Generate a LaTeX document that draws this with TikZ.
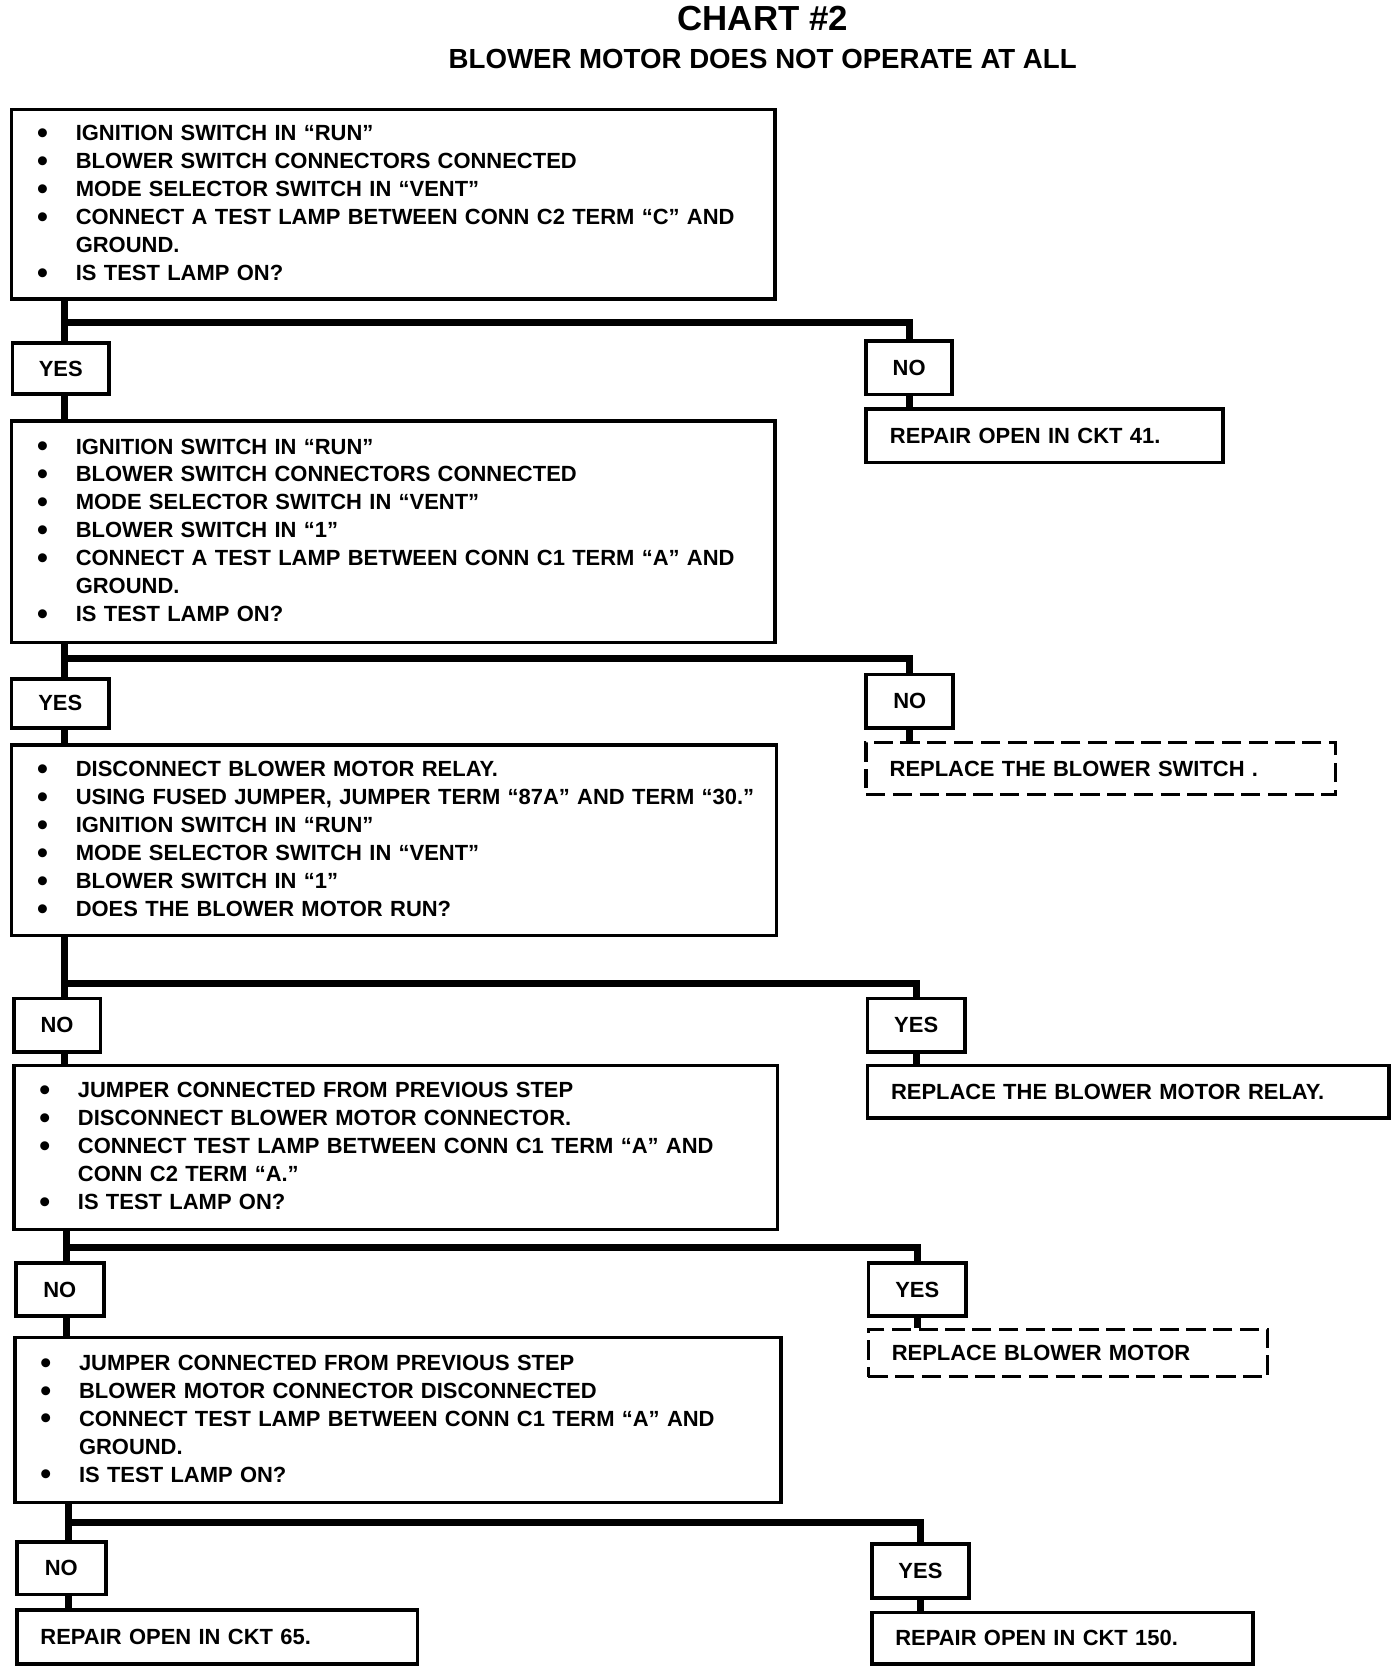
\documentclass[tikz,border=0pt]{standalone}
\usepackage{fontspec}
\setmainfont{Liberation Sans}
\newcommand\bul{\makebox[36pt][l]{\raisebox{-2.6pt}{\fontsize{29}{26}\selectfont•}}}
\newcommand\cont{\hspace*{36pt}}
\begin{document}
\begin{tikzpicture}[x=1pt,y=-0.995pt,
  every node/.style={font=\bfseries\fontsize{20.5}{26.1}\selectfont},
  qbox/.style={draw, line width=3.5pt, anchor=north west, inner ysep=0pt, inner xsep=24pt, align=left},
  rbox/.style={draw, line width=3.5pt, anchor=north west, inner ysep=0pt, inner xsep=22pt, align=left},
  dbox/.style={rbox, line width=3pt, dash pattern=on 18pt off 7pt},
  ybox/.style={draw, line width=3.5pt, anchor=north west, inner sep=0pt},
  conn/.style={line width=6.5pt}]
\useasboundingbox (0,0) rectangle (1300,1566.8);
\node[font=\bfseries\fontsize{32.5}{32.5}\selectfont] (title) at (712,17) {CHART \#2};
\node[font=\bfseries\fontsize{25.8}{25.8}\selectfont] (sub) at (712,55) {BLOWER MOTOR DOES NOT OPERATE AT ALL};
% step 1
\node[qbox, text width=665pt, minimum height=177pt] (b1) at (9,101) {\bul IGNITION SWITCH IN “RUN”\\ \bul BLOWER SWITCH CONNECTORS CONNECTED\\ \bul MODE SELECTOR SWITCH IN “VENT”\\ \bul CONNECT A TEST LAMP BETWEEN CONN C2 TERM “C” AND\\ \cont GROUND.\\ \bul IS TEST LAMP ON?};
\node[ybox, minimum width=90pt, minimum height=48pt] (yes1) at (10,320) {YES};
\node[ybox, minimum width=80pt, minimum height=50pt] (no1) at (807,318) {NO};
\node[rbox, text width=289pt, minimum height=50pt] (r1) at (807,382) {REPAIR OPEN IN CKT 41.};
% step 2
\node[qbox, text width=665pt, minimum height=207pt] (b2) at (9,393) {\bul IGNITION SWITCH IN “RUN”\\ \bul BLOWER SWITCH CONNECTORS CONNECTED\\ \bul MODE SELECTOR SWITCH IN “VENT”\\ \bul BLOWER SWITCH IN “1”\\ \bul CONNECT A TEST LAMP BETWEEN CONN C1 TERM “A” AND\\ \cont GROUND.\\ \bul IS TEST LAMP ON?};
\node[ybox, minimum width=91pt, minimum height=46pt] (yes2) at (9,635) {YES};
\node[ybox, minimum width=81pt, minimum height=50pt] (no2) at (807,631) {NO};
\node[dbox, text width=394pt, minimum height=49pt] (r2) at (807,695) {REPLACE THE BLOWER SWITCH .};
% step 3
\node[qbox, text width=666pt, minimum height=178pt] (b3) at (9,697) {\bul DISCONNECT BLOWER MOTOR RELAY.\\ \bul \mbox{USING FUSED JUMPER, JUMPER TERM “87A” AND TERM “30.”}\\ \bul IGNITION SWITCH IN “RUN”\\ \bul MODE SELECTOR SWITCH IN “VENT”\\ \bul BLOWER SWITCH IN “1”\\ \bul DOES THE BLOWER MOTOR RUN?};
\node[ybox, minimum width=81pt, minimum height=50pt] (no3) at (11,935) {NO};
\node[ybox, minimum width=91pt, minimum height=50pt] (yes3) at (808,935) {YES};
\node[rbox, text width=443pt, minimum height=49pt] (r3) at (808,998) {REPLACE THE BLOWER MOTOR RELAY.};
% step 4
\node[qbox, text width=665pt, minimum height=153pt] (b4) at (11,998) {\bul JUMPER CONNECTED FROM PREVIOUS STEP\\ \bul DISCONNECT BLOWER MOTOR CONNECTOR.\\ \bul CONNECT TEST LAMP BETWEEN CONN C1 TERM “A” AND\\ \cont CONN C2 TERM “A.”\\ \bul IS TEST LAMP ON?};
\node[ybox, minimum width=82pt, minimum height=50pt] (no4) at (13,1183) {NO};
\node[ybox, minimum width=91pt, minimum height=50pt] (yes4) at (809,1183) {YES};
\node[dbox, text width=329pt, minimum height=44pt] (r4) at (809,1246) {REPLACE BLOWER MOTOR};
% step 5
\node[qbox, text width=667pt, minimum height=154pt] (b5) at (12,1253) {\bul JUMPER CONNECTED FROM PREVIOUS STEP\\ \bul BLOWER MOTOR CONNECTOR DISCONNECTED\\ \bul CONNECT TEST LAMP BETWEEN CONN C1 TERM “A” AND\\ \cont GROUND.\\ \bul IS TEST LAMP ON?};
\node[ybox, minimum width=83pt, minimum height=49pt] (no5) at (14,1445) {NO};
\node[ybox, minimum width=91pt, minimum height=50pt] (yes5) at (812,1447) {YES};
\node[rbox, text width=330pt, minimum height=50pt] (r5) at (14,1509) {REPAIR OPEN IN CKT 65.};
\node[rbox, text width=312pt, minimum height=48pt] (r6) at (812,1511) {REPAIR OPEN IN CKT 150.};
% trunk points
\coordinate (t1) at (60,303);
\coordinate (t2) at (60,618);
\coordinate (t3) at (60,923);
\coordinate (t4) at (62,1170);
\coordinate (t5) at (64,1428);
% connectors
\draw[conn] (b1.south -| t1) -- (yes1.north -| t1);
\draw[conn] (t1) -| (no1.north);
\draw[conn] (no1.south) -- (r1.north -| no1.south);
\draw[conn] (yes1.south -| t1) -- (b2.north -| t1);
\draw[conn] (b2.south -| t2) -- (yes2.north -| t2);
\draw[conn] (t2) -| (no2.north);
\draw[conn] (no2.south) -- (r2.north -| no2.south);
\draw[conn] (yes2.south -| t2) -- (b3.north -| t2);
\draw[conn] (b3.south -| t3) -- (no3.north -| t3);
\draw[conn] (t3) -| (yes3.north);
\draw[conn] (yes3.south) -- (r3.north -| yes3.south);
\draw[conn] (no3.south -| t3) -- (b4.north -| t3);
\draw[conn] (b4.south -| t4) -- (no4.north -| t4);
\draw[conn] (t4) -| (yes4.north);
\draw[conn] (yes4.south) -- (r4.north -| yes4.south);
\draw[conn] (no4.south -| t4) -- (b5.north -| t4);
\draw[conn] (b5.south -| t5) -- (no5.north -| t5);
\draw[conn] (t5) -| (yes5.north);
\draw[conn] (yes5.south) -- (r6.north -| yes5.south);
\draw[conn] (no5.south -| t5) -- (r5.north -| t5);
\end{tikzpicture}
\end{document}
